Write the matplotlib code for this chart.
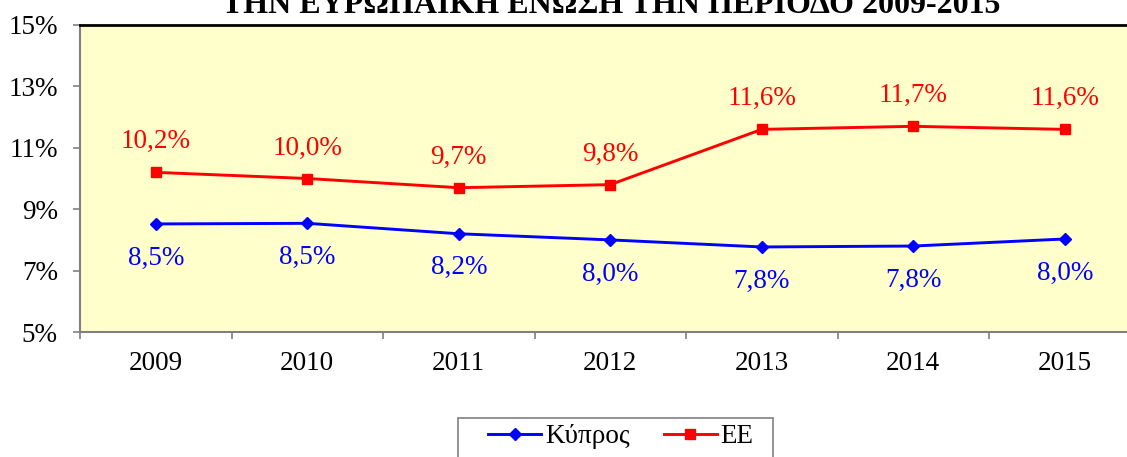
import matplotlib
matplotlib.use("Agg")
import matplotlib.pyplot as plt
from matplotlib.patches import Rectangle
from matplotlib.ticker import FixedLocator, NullFormatter, FuncFormatter

plt.rcParams['font.family'] = ['Liberation Serif', 'DejaVu Serif']

years = ['2009', '2010', '2011', '2012', '2013', '2014', '2015']
cyprus = [8.52, 8.54, 8.2, 8.0, 7.77, 7.8, 8.03]
eu = [10.2, 10.0, 9.7, 9.8, 11.6, 11.7, 11.6]
title = 'ΤΗΝ ΕΥΡΩΠΑΙΚΗ ΕΝΩΣΗ ΤΗΝ ΠΕΡΙΟΔΟ 2009-2015'

W, H = 1127, 457
fig = plt.figure(figsize=(W / 100, H / 100), dpi=100)
ax = fig.add_axes([80 / W, (H - 332) / H, (W - 80) / W, 307 / H])
ax.set_facecolor('#FFFFCC')

x = list(range(len(years)))
ax.plot(x, cyprus, color='#0000FF', lw=2.1, marker='D', ms=6.5, label='Κύπρος')
ax.plot(x, eu, color='#FF0000', lw=2.1, marker='s', ms=6.5, label='ΕΕ')

fs = 19.5
for xi, v in zip(x, eu):
    ax.annotate(f'{v:.1f}%'.replace('.', ','), (xi, v), xytext=(0, 22),
                textcoords='offset points', ha='center', va='center',
                color='#FF0000', fontsize=fs)
for xi, v in zip(x, cyprus):
    ax.annotate(f'{v:.1f}%'.replace('.', ','), (xi, v), xytext=(0, -24.5),
                textcoords='offset points', ha='center', va='center',
                color='#0000FF', fontsize=fs)

ax.set_ylim(5, 15)
ax.set_yticks([5, 7, 9, 11, 13, 15])
ax.yaxis.set_major_formatter(FuncFormatter(lambda v, p: f'{v:.0f}%'))
ax.set_xlim(-0.5, -0.5 + (W - 80) / 151.5)
ax.xaxis.set_major_locator(FixedLocator([i - 0.5 for i in range(len(years))]))
ax.xaxis.set_major_formatter(NullFormatter())
ax.xaxis.set_minor_locator(FixedLocator(x))
ax.set_xticklabels(years, minor=True)

ax.tick_params(axis='both', which='major', color='#808080', length=5, width=1.2,
               labelsize=fs, direction='out')
ax.tick_params(axis='y', pad=11)
ax.tick_params(axis='x', which='minor', length=0, labelsize=fs, pad=14)

for s in ['left', 'bottom']:
    ax.spines[s].set_color('#808080')
    ax.spines[s].set_linewidth(1.5)
ax.spines['top'].set_color('black')
ax.spines['top'].set_linewidth(2)
ax.spines['right'].set_visible(False)

fig.text(611 / W, 1 - 13 / H, title, ha='center', va='baseline',
         fontsize=23, fontweight='bold')

# legend frame drawn by hand, it runs past the bottom edge
fig.patches.append(Rectangle((458 / W, -0.05), 315 / W, 0.05 + (H - 418) / H,
                             transform=fig.transFigure, facecolor='white',
                             edgecolor='#808080', lw=1.2))
fig.legend(loc='upper left', bbox_to_anchor=(488 / W, (H - 424) / H),
           ncol=2, fontsize=fs, frameon=False, borderpad=0, borderaxespad=0,
           handlelength=1.96, handletextpad=0.15, columnspacing=1.25)

fig.savefig('out.png', dpi=100)
